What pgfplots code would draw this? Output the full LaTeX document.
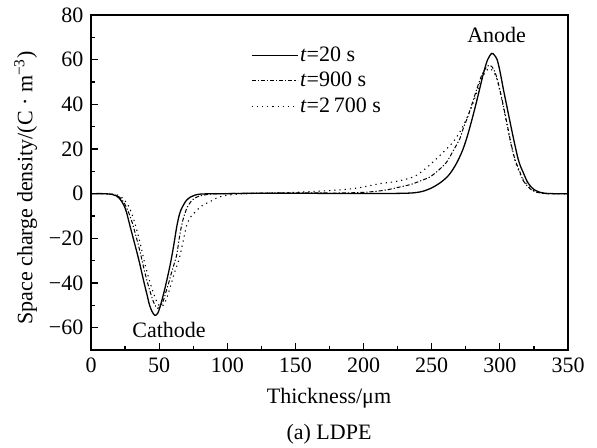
\documentclass[border=0pt]{standalone}
\usepackage{fontspec}
\setmainfont{Liberation Serif}
\usepackage{pgfplots}
\pgfplotsset{compat=1.18}
\usepackage{pgfplotstable}

\pgfplotstableread{
x y
0 0
10 0
15 -0.3
18 -0.8
21 -2.2
24 -5
26 -8.2
28 -13
31 -20
34 -27
36 -32
39 -40
41 -45
43 -50
45 -53
47 -54.5
49 -53.5
51 -50
54 -43
57 -35
59 -29
61 -22
63 -14.5
65 -9
67 -6
70 -3
73 -1.5
76 -0.7
80 -0.2
90 0
100 0
120 0.2
150 0.2
180 0.1
200 0.1
220 0.1
235 0.3
243 1
250 2.6
256 4.8
261 7.3
264 9.5
267 12.3
270 15.8
273 20
276 25.5
279 32
282 39
285 46.5
288 54
291 60
294 62.8
296 62
298 60
300 55
302.5 47
305 39.5
307 33.5
310 24.7
313 16.5
315 12.5
317 9.7
320 5.5
323 3
326 1.5
329 0.7
333 0.2
340 0
350 0
}\tA

\pgfplotstableread{
x y
0 0
10 0
15 -0.2
18 -0.6
21 -1.6
24 -3.8
27 -7.5
30 -12.5
33 -19
36 -26
39 -34
42 -41
45 -47
47 -50
49 -51.3
51 -50.5
53 -48
55 -44
57 -40
59 -35.5
61 -31.5
63 -27
65 -19
66.5 -14.2
68 -10.5
70 -7
71.4 -5.2
73 -3.8
76 -2
80 -1
85 -0.4
90 -0.1
100 0.1
120 0.2
150 0.4
180 0.3
200 0.6
215 1.5
226.7 3
235 4.2
242 5.8
248.7 7.5
255 10.5
261 14.2
266 19.5
270.7 24.7
273 29
276.8 35
280 41
284 48.5
287 53.5
290 56.5
292.2 57.5
294 57
296 55
298 51.5
300 46.5
302 41
304 35
306 29
308 23
311 15.5
314.7 9.7
317 6
320 3.5
323 1.8
326 0.8
330 0.3
335 0
350 0
}\tB

\pgfplotstableread{
x y
0 0
10 0
17 -0.3
21 -1
24 -2.5
27 -5
30 -9
33 -15
36 -22
39 -30
42 -37
45 -43
48 -48
50 -50
52 -50.5
54 -49
56 -46
58 -42
60 -38
62 -34
64.8 -29
67 -23
70.2 -14.2
73 -10.5
76 -8.5
80 -6
84 -4.5
87 -3.7
92 -2
97 -1
105 -0.3
115 0
130 0.3
150 0.6
178 1.5
195 2.5
212 4.5
224 5.5
236.5 7.5
245 11
253.6 15.7
260 19.5
265.8 23.2
271 28
275.6 33.6
280 40
284 47
287 52
290 55
292 56
294 55.5
296 54
298 51
300 46
302 40.5
304 34.5
306 28.5
308 22.5
311 15
314 10
317 6.5
320 4
323 2.2
326 1
330 0.4
335 0
350 0
}\tC

\begin{document}
\fontsize{11}{13}\selectfont
\begin{tikzpicture}
\begin{axis}[
  width=238.5pt, height=167.5pt, scale only axis,
  xmin=0, xmax=350, ymin=-70, ymax=80,
  xtick={0,50,...,350},
  xticklabels={0,50,100,150,200,250,300,350},
  ytick={-60,-40,...,80},
  yticklabels={−60,−40,−20,0,20,40,60,80},
  minor x tick num=1, minor y tick num=1,
  tick align=inside, tick pos=left,
  major tick length=3.4pt, minor tick length=2pt,
  axis line style={line width=0.65pt},
  every tick/.style={black, line width=0.6pt},
  clip=false,
  xlabel={Thickness/μm},
  ylabel={Space charge density/(C · m\textsuperscript{−3})},
  xlabel style={at={(axis description cs:0.499,-0.159)}, anchor=base},
  ylabel style={at={(axis description cs:-0.137,0.484)}, anchor=center},
  legend image code/.code={\draw[#1] (0pt,0pt) -- (23pt,0pt);},
  legend style={draw=none, fill=none, inner sep=0pt,
    at={(axis cs:117,67.5)}, anchor=north west,
    nodes={inner sep=1pt, text height=8pt, text depth=2pt},
    row sep=0.75pt},
  legend cell align=left,
]
\addplot[black, line width=0.65pt, smooth] table[x=x,y=y]{\tA};
\addlegendentry{\textit{t}=20 s}
\addplot[black, line width=0.5pt, smooth, dash pattern=on 2pt off 1pt on 0.6pt off 1pt] table[x=x,y=y]{\tB};
\addlegendentry{\textit{t}=900 s}
\addplot[black, line width=0.55pt, smooth, dash pattern=on 0.6pt off 2pt] table[x=x,y=y]{\tC};
\addlegendentry{\textit{t}=2\,700 s}
\node[anchor=base] at (axis cs:57.3,-64.3) {Cathode};
\node[anchor=base] at (axis cs:297.6,67.7) {Anode};
\node[anchor=base] at (axis description cs:0.499,-0.266) {(a) LDPE};
\end{axis}
\pgfresetboundingbox
\path (-45.5pt,-48.5pt) rectangle (253pt,175pt);
\end{tikzpicture}
\end{document}
